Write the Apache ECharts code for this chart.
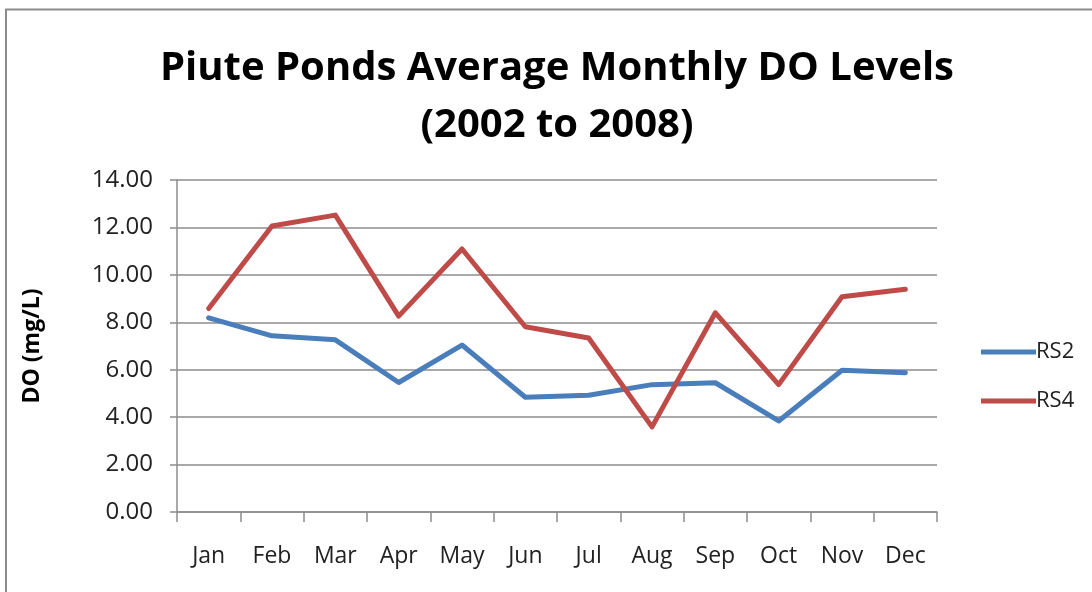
<!DOCTYPE html>
<html>
<head>
<meta charset="utf-8">
<script src="https://cdn.jsdelivr.net/npm/echarts@6/dist/echarts.min.js"></script>
<style>
  html, body { margin: 0; padding: 0; background: #ffffff; }
  #chart { width: 1092px; height: 592px; }
</style>
</head>
<body>
<div id="chart"></div>
<script>
var months = ['Jan', 'Feb', 'Mar', 'Apr', 'May', 'Jun', 'Jul', 'Aug', 'Sep', 'Oct', 'Nov', 'Dec'];
var rs2 = [8.19, 7.43, 7.26, 5.46, 7.04, 4.84, 4.92, 5.37, 5.45, 3.84, 5.98, 5.87];
var rs4 = [8.58, 12.06, 12.52, 8.26, 11.09, 7.81, 7.34, 3.59, 8.40, 5.37, 9.08, 9.39];
var seriesNames = ['RS2', 'RS4'];
var titleLines = ['Piute Ponds Average Monthly DO Levels', '(2002 to 2008)'];
var yAxisName = 'DO (mg/L)';

var chart = echarts.init(document.getElementById('chart'), null, { renderer: 'canvas' });
var labelFont = '"Open Sans", "Noto Sans", sans-serif';
chart.setOption({
  animation: false,
  backgroundColor: '#ffffff',
  graphic: [{
    type: 'rect',
    shape: { x: 6, y: 9.5, width: 1300, height: 800 },
    style: { fill: 'none', stroke: '#8c8c8c', lineWidth: 2 },
    silent: true
  }],
  title: {
    text: titleLines.join('\n'),
    left: 552,
    top: 35,
    textAlign: 'center',
    textStyle: {
      fontFamily: labelFont,
      fontWeight: 'bold',
      fontSize: 40,
      lineHeight: 57,
      color: '#000000'
    }
  },
  legend: {
    orient: 'vertical',
    left: 976,
    top: 336,
    itemWidth: 55,
    itemHeight: 5,
    itemGap: 27,
    icon: 'rect',
    data: seriesNames,
    textStyle: { fontFamily: labelFont, fontSize: 22, color: '#222222', padding: [0, 0, 0, -5] }
  },
  grid: { left: 177, right: 155, top: 180, bottom: 80, containLabel: false },
  xAxis: {
    type: 'category',
    data: months,
    boundaryGap: true,
    axisLine: { lineStyle: { color: '#8c8c8c', width: 1.5 } },
    axisTick: { show: true, length: 10, alignWithLabel: false, lineStyle: { color: '#8c8c8c', width: 1.5 } },
    axisLabel: { margin: 33, fontFamily: labelFont, fontSize: 23, color: '#222222', interval: 0 },
    splitLine: { show: false }
  },
  yAxis: {
    type: 'value',
    min: 0,
    max: 14,
    interval: 2,
    name: yAxisName,
    nameLocation: 'middle',
    nameRotate: 90,
    nameGap: 133,
    nameTextStyle: { fontFamily: labelFont, fontWeight: 'bold', fontSize: 23, color: '#000000' },
    axisLine: { show: true, lineStyle: { color: '#8c8c8c', width: 1.5 } },
    axisTick: { show: true, length: 7, lineStyle: { color: '#8c8c8c', width: 1.5 } },
    axisLabel: {
      margin: 24,
      fontFamily: labelFont,
      fontSize: 24,
      color: '#222222',
      formatter: function (v) { return v.toFixed(2); }
    },
    splitLine: { show: true, lineStyle: { color: '#8c8c8c', width: 1.5 } }
  },
  series: [
    {
      name: seriesNames[0],
      type: 'line',
      data: rs2,
      symbol: 'none',
      lineStyle: { color: '#4a7ebb', width: 5, join: 'round', cap: 'round' },
      itemStyle: { color: '#4a7ebb' }
    },
    {
      name: seriesNames[1],
      type: 'line',
      data: rs4,
      symbol: 'none',
      lineStyle: { color: '#be4b48', width: 5, join: 'round', cap: 'round' },
      itemStyle: { color: '#be4b48' }
    }
  ]
});
</script>
</body>
</html>
